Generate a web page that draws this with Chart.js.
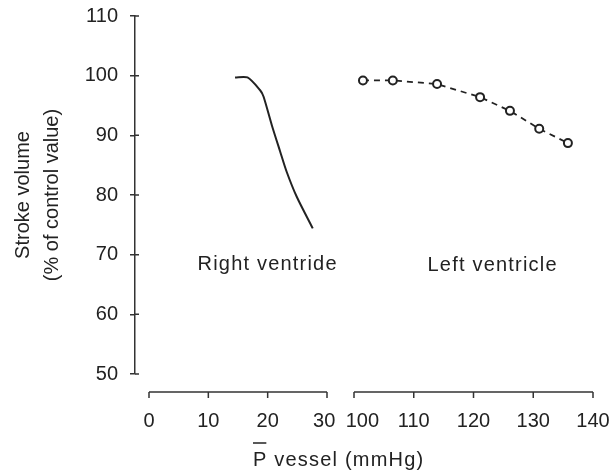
<!DOCTYPE html>
<html>
<head>
<meta charset="utf-8">
<script src="https://cdn.jsdelivr.net/npm/chart.js@4.4.1/dist/chart.umd.min.js"></script>
<style>
  html, body { margin: 0; padding: 0; background: #fff; }
  #wrap { position: relative; width: 612px; height: 471px; }
  #wrap canvas { position: absolute; left: 0; top: 0; }
</style>
</head>
<body>
<div id="wrap">
  <canvas id="rightChart" width="612" height="471"></canvas>
  <canvas id="leftChart" width="612" height="471"></canvas>
</div>
<script>
// values
const rvPressure = [14.5, 16.6, 18.7, 19.3, 20.7, 22.1, 23.2, 24.9, 27.6];
const rvStroke = [99.7, 99.7, 97.6, 96.5, 91.7, 87.3, 83.9, 79.7, 74.4];
const lvPressure = [101.5, 106.5, 113.9, 121.1, 126.1, 131, 135.8];
const lvStroke = [99.2, 99.2, 98.6, 96.4, 94.1, 91.1, 88.7];
const yTicks = [50, 60, 70, 80, 90, 100, 110];
const rvTicks = [0, 10, 20, 30];
const lvTicks = [100, 110, 120, 130, 140];

const ink = '#222';
const FONT = 'Arial, "Liberation Sans", sans-serif';

// x axis sits a little below the plot, only as long as its tick range
const detachedAxis = {
  id: 'detachedAxis',
  afterDraw(chart, args, opts) {
    const {ctx, chartArea} = chart;
    const x = chart.scales.x;
    const y0 = chartArea.bottom + 18;
    const first = x.getPixelForValue(opts.ticks[0]);
    const last = x.getPixelForValue(opts.ticks[opts.ticks.length - 1]);
    ctx.save();
    ctx.strokeStyle = '#333';
    ctx.lineWidth = 1.5;
    ctx.beginPath();
    ctx.moveTo(first, y0);
    ctx.lineTo(last, y0);
    opts.ticks.forEach(v => {
      const px = x.getPixelForValue(v);
      ctx.moveTo(px, y0);
      ctx.lineTo(px, y0 + 6);
    });
    // short inner half of the y ticks
    if (opts.yInner) {
      const y = chart.scales.y;
      yTicks.forEach(v => {
        const py = y.getPixelForValue(v);
        ctx.moveTo(chartArea.left, py);
        ctx.lineTo(chartArea.left + 4, py);
      });
    }
    ctx.stroke();
    ctx.restore();
  }
};

// panel captions and the shared x title
const captions = {
  id: 'captions',
  afterDraw(chart, args, opts) {
    const {ctx} = chart;
    ctx.save();
    ctx.fillStyle = ink;
    ctx.font = '20px ' + FONT;
    ctx.letterSpacing = '1.2px';
    ctx.textAlign = 'center';
    ctx.textBaseline = 'middle';
    const px = chart.scales.x.getPixelForValue(opts.at[0]);
    const py = chart.scales.y.getPixelForValue(opts.at[1]);
    ctx.fillText(opts.text, px, py);
    if (opts.xTitle) {
      ctx.textAlign = 'left';
      ctx.textBaseline = 'alphabetic';
      const tx = 253, ty = 466;
      ctx.fillText('P vessel (mmHg)', tx, ty);
      const w = ctx.measureText('P').width - 1.2;
      ctx.strokeStyle = ink;
      ctx.lineWidth = 1.5;
      ctx.beginPath();
      ctx.moveTo(tx, ty - 23);
      ctx.lineTo(tx + w, ty - 23);
      ctx.stroke();
    }
    ctx.restore();
  }
};

const tickFont = { family: FONT, size: 20 };

function noEdgePadding(s) {
  s.paddingTop = 0;
  s.paddingBottom = 0;
  s.paddingLeft = 0;
  s.paddingRight = 0;
}

new Chart(document.getElementById('leftChart'), {
  type: 'line',
  data: {
    datasets: [{
      label: 'Right ventricle',
      data: rvPressure.map((p, i) => ({x: p, y: rvStroke[i]})),
      borderColor: ink,
      borderWidth: 2,
      pointRadius: 0,
      tension: 0.25,
      fill: false
    }]
  },
  options: {
    responsive: false,
    animation: false,
    layout: { padding: { top: 16, right: 285, left: 0, bottom: 0 } },
    plugins: {
      legend: { display: false },
      tooltip: { enabled: false },
      detachedAxis: { ticks: rvTicks, yInner: true },
      captions: { text: 'Right ventride', at: [20, 68.4], xTitle: true }
    },
    scales: {
      x: {
        type: 'linear',
        min: -2.36,
        max: 30,
        afterBuildTicks: s => { s.ticks = rvTicks.map(v => ({value: v})); },
        afterFit: s => { s.height = 97; noEdgePadding(s); },
        grid: { display: false, drawTicks: false },
        border: { display: false },
        ticks: {
          color: ink, font: tickFont, padding: 35, maxRotation: 0,
          // the last label is nudged left in the original, away from "100"
          callback: v => v === 30 ? '30 ' : String(v)
        }
      },
      y: {
        min: 50,
        max: 110,
        afterBuildTicks: s => { s.ticks = yTicks.map(v => ({value: v})); },
        afterFit: s => { s.width = 135; noEdgePadding(s); },
        grid: { drawOnChartArea: false, drawTicks: true, tickLength: 5, color: '#333', lineWidth: 1.5 },
        border: { display: true, color: '#333', width: 1.5 },
        ticks: { color: ink, font: tickFont, padding: 12 },
        title: {
          display: true,
          text: ['Stroke volume', '(% of control value)'],
          color: ink,
          font: { family: FONT, size: 20, lineHeight: 1.45 },
          padding: { top: 9, bottom: 0 }
        }
      }
    }
  },
  plugins: [detachedAxis, captions]
});

new Chart(document.getElementById('rightChart'), {
  type: 'line',
  data: {
    datasets: [{
      label: 'Left ventricle',
      data: lvPressure.map((p, i) => ({x: p, y: lvStroke[i]})),
      borderColor: ink,
      borderWidth: 1.8,
      borderDash: [6, 5],
      pointRadius: 4,
      pointBorderWidth: 2,
      pointBorderColor: ink,
      pointBackgroundColor: '#fff',
      tension: 0,
      fill: false
    }]
  },
  options: {
    responsive: false,
    animation: false,
    layout: { padding: { top: 16, right: 19, left: 354, bottom: 0 } },
    plugins: {
      legend: { display: false },
      tooltip: { enabled: false },
      detachedAxis: { ticks: lvTicks, yInner: false },
      captions: { text: 'Left ventricle', at: [123.2, 68.2], xTitle: false }
    },
    scales: {
      x: {
        type: 'linear',
        min: 100,
        max: 140,
        afterBuildTicks: s => { s.ticks = lvTicks.map(v => ({value: v})); },
        afterFit: s => { s.height = 97; noEdgePadding(s); },
        grid: { display: false, drawTicks: false },
        border: { display: false },
        ticks: {
          color: ink, font: tickFont, padding: 35, maxRotation: 0,
          // first label sits right of its tick in the original
          callback: v => v === 100 ? '   100' : String(v)
        }
      },
      y: {
        display: false,
        min: 50,
        max: 110
      }
    }
  },
  plugins: [detachedAxis, captions]
});
</script>
</body>
</html>
